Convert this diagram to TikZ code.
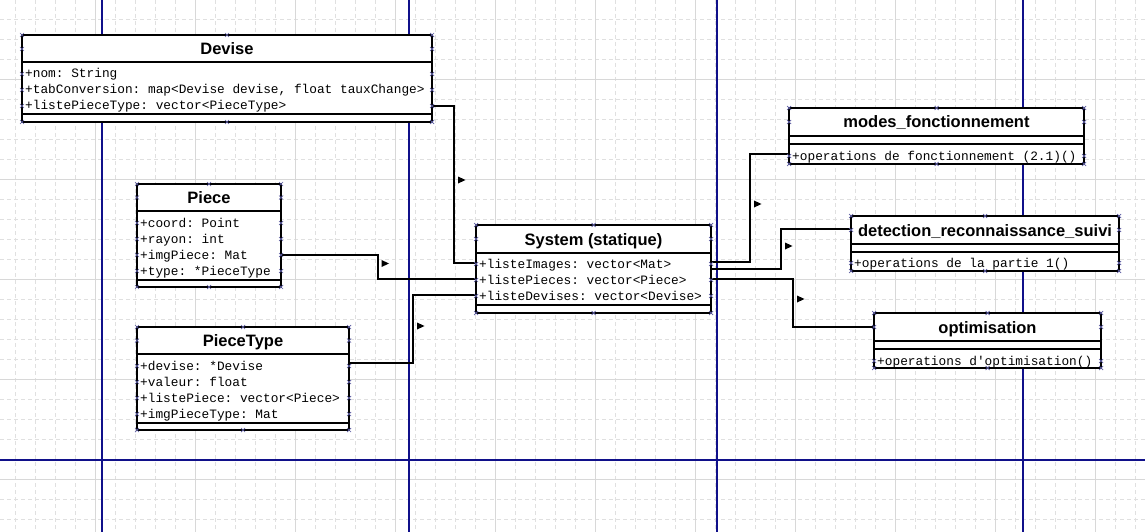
\documentclass[tikz,border=0pt]{standalone}
\usepackage{fontspec}
\setmainfont{Liberation Sans}
\newfontfamily\umlmono{Liberation Mono}[WordSpace={1,0,0}]
\usetikzlibrary{calc}
\definecolor{gridd}{HTML}{E0E0E0}
\definecolor{grids}{HTML}{D8D8D8}
\definecolor{navyln}{HTML}{10108A}
\definecolor{hmk}{HTML}{5A5AA0}
\tikzset{
  box/.style={draw=black, line width=2pt, fill=white, anchor=north west, inner sep=0pt, outer sep=0pt},
  sepline/.style={line width=2pt},
  ctitle/.style={font=\bfseries\fontsize{16.5}{18}\selectfont, inner sep=0pt, text height=12pt, text depth=0pt},
  attr/.style={font=\umlmono\fontsize{12.8}{15}\selectfont, anchor=west, inner xsep=3pt, inner ysep=0pt, text height=10pt, text depth=2pt,
    execute at begin node={\spaceskip=7.68pt\relax\xspaceskip=7.68pt\relax}},
  conn/.style={line width=2pt, line join=miter},
  hmark/.style={draw=hmk, line width=0.7pt},
  gdash/.style={draw=gridd, line width=0.8pt, dash pattern=on 4pt off 3pt},
  gsolid/.style={draw=grids, line width=0.8pt},
  blueline/.style={draw=navyln, line width=1.3pt},
}
\newcommand\hdl[5]{%
  \foreach \hdX in {#1,#3}{\foreach \hdY in {#2,#4,#5}{%
    \draw[hmark] (\hdX-2,\hdY-2) -- (\hdX+2,\hdY+2) (\hdX-2,\hdY+2) -- (\hdX+2,\hdY-2);}}%
  \foreach \hdY in {#2,#4}{%
    \draw[hmark] ({(#1+#3)/2-2},\hdY-2) -- ({(#1+#3)/2+2},\hdY+2) ({(#1+#3)/2-2},\hdY+2) -- ({(#1+#3)/2+2},\hdY-2);}%
}
\newcommand\mkr[2]{\fill[black] (#1-3.5,#2-3.5) -- (#1+4,#2) -- (#1-3.5,#2+3.5) -- cycle;}
\begin{document}
\begin{tikzpicture}[x=1pt,y=-1pt]
\useasboundingbox (0,0) rectangle (1145,532);
\fill[white] (0,0) rectangle (1145,532);
% grid
\foreach \gx in {15,35,...,1135} \draw[gdash] (\gx,0) -- (\gx,532);
\foreach \gy in {19,39,...,519} \draw[gdash] (0,\gy) -- (1145,\gy);
\foreach \gx in {95,195,...,1095} \draw[gsolid] (\gx,0) -- (\gx,532);
\foreach \gy in {79,179,...,479} \draw[gsolid] (0,\gy) -- (1145,\gy);
% page lines
\foreach \gx in {102,409,717,1023} \draw[blueline] (\gx,0) -- (\gx,532);
\draw[blueline] (0,460) -- (1145,460);

% Devise
\node[box, minimum width=410pt, minimum height=87pt] (dev) at (22,35) {};
\node[ctitle] (dev-t) at (227,48.5) {Devise};
\draw[sepline] (22,62) -- (432,62);
\node[attr, text width=404pt] (dev-a1) at (22,74) {+nom: String};
\node[attr, text width=404pt] (dev-a2) at (22,90) {+tabConversion: map<Devise devise, float tauxChange>};
\node[attr, text width=404pt] (dev-a3) at (22,106) {+listePieceType: vector<PieceType>};
\draw[sepline] (22,114) -- (432,114);

% Piece
\node[box, minimum width=144pt, minimum height=103pt] (pc) at (137,184) {};
\node[ctitle] (pc-t) at (209,197.5) {Piece};
\draw[sepline] (137,211) -- (281,211);
\node[attr, text width=138pt] (pc-a1) at (137,223) {+coord: Point};
\node[attr, text width=138pt] (pc-a2) at (137,239) {+rayon: int};
\node[attr, text width=138pt] (pc-a3) at (137,255) {+imgPiece: Mat};
\node[attr, text width=138pt] (pc-a4) at (137,271) {+type: *PieceType};
\draw[sepline] (137,280) -- (281,280);

% PieceType
\node[box, minimum width=212pt, minimum height=103pt] (pt) at (137,327) {};
\node[ctitle] (pt-t) at (243,340.5) {PieceType};
\draw[sepline] (137,354) -- (349,354);
\node[attr, text width=206pt] (pt-a1) at (137,366) {+devise: *Devise};
\node[attr, text width=206pt] (pt-a2) at (137,382) {+valeur: float};
\node[attr, text width=206pt] (pt-a3) at (137,398) {+listePiece: vector<Piece>};
\node[attr, text width=206pt] (pt-a4) at (137,414) {+imgPieceType: Mat};
\draw[sepline] (137,423) -- (349,423);

% System
\node[box, minimum width=235pt, minimum height=88pt] (sys) at (476,225) {};
\node[ctitle] (sys-t) at (593.5,239) {System (statique)};
\draw[sepline] (476,253) -- (711,253);
\node[attr, text width=229pt] (sys-a1) at (476,264) {+listeImages: vector<Mat>};
\node[attr, text width=229pt] (sys-a2) at (476,280) {+listePieces: vector<Piece>};
\node[attr, text width=229pt] (sys-a3) at (476,296) {+listeDevises: vector<Devise>};
\draw[sepline] (476,305) -- (711,305);

% modes_fonctionnement
\node[box, minimum width=295pt, minimum height=56pt] (mf) at (789,108) {};
\node[ctitle] (mf-t) at (936.5,122) {modes\_fonctionnement};
\draw[sepline] (789,136) -- (1084,136);
\draw[sepline] (789,144) -- (1084,144);
\node[attr, text width=289pt] (mf-o1) at (789,156) {+operations de fonctionnement (2.1)()};

% detection_reconnaissance_suivi
\node[box, minimum width=268pt, minimum height=55pt] (dr) at (851,216) {};
\node[ctitle] (dr-t) at (985,230) {detection\_reconnaissance\_suivi};
\draw[sepline] (851,244) -- (1119,244);
\draw[sepline] (851,252) -- (1119,252);
\node[attr, text width=262pt] (dr-o1) at (851,263) {+operations de la partie 1()};

% optimisation
\node[box, minimum width=227pt, minimum height=55pt] (op) at (874,313) {};
\node[ctitle] (op-t) at (987.5,327) {optimisation};
\draw[sepline] (874,341) -- (1101,341);
\draw[sepline] (874,349) -- (1101,349);
\node[attr, text width=221pt] (op-o1) at (874,361) {+operations d{\char"27}optimisation()};

% connectors
\draw[conn] (dev-a3.east) -- ++(22,0) |- ($(sys-a1.west)+(0,-1)$);
\draw[conn] (pc-a3.east) -- ++(97,0) |- ($(sys-a2.west)+(0,-1)$);
\draw[conn] ($(pt-a1.east)+(0,-3)$) -- ++(64,0) |- ($(sys-a3.west)+(0,-1)$);
\draw[conn] ($(sys.north east)+(0,37)$) -- ++(39,0) |- ($(mf-o1.west)+(0,-2)$);
\draw[conn] ($(sys.north east)+(0,44)$) -- ++(70,0) |- ($(dr.north west)+(0,13)$);
\draw[conn] ($(sys.north east)+(0,54)$) -- ++(82,0) |- ($(op.north west)+(0,14)$);

% direction markers
\mkr{461.5}{180}
\mkr{385}{263.5}
\mkr{420.5}{326}
\mkr{757.5}{204}
\mkr{788.5}{246}
\mkr{800.5}{299}

% handles
\hdl{22}{35}{432}{122}{49,74,90,106}
\hdl{137}{184}{281}{287}{197.5,223,239,255,271}
\hdl{137}{327}{349}{430}{340.5,366,382,398,414}
\hdl{476}{225}{711}{313}{239,264,280,296}
\hdl{789}{108}{1084}{164}{122,156}
\hdl{851}{216}{1119}{271}{230,263}
\hdl{874}{313}{1101}{368}{327,361}
\end{tikzpicture}
\end{document}
